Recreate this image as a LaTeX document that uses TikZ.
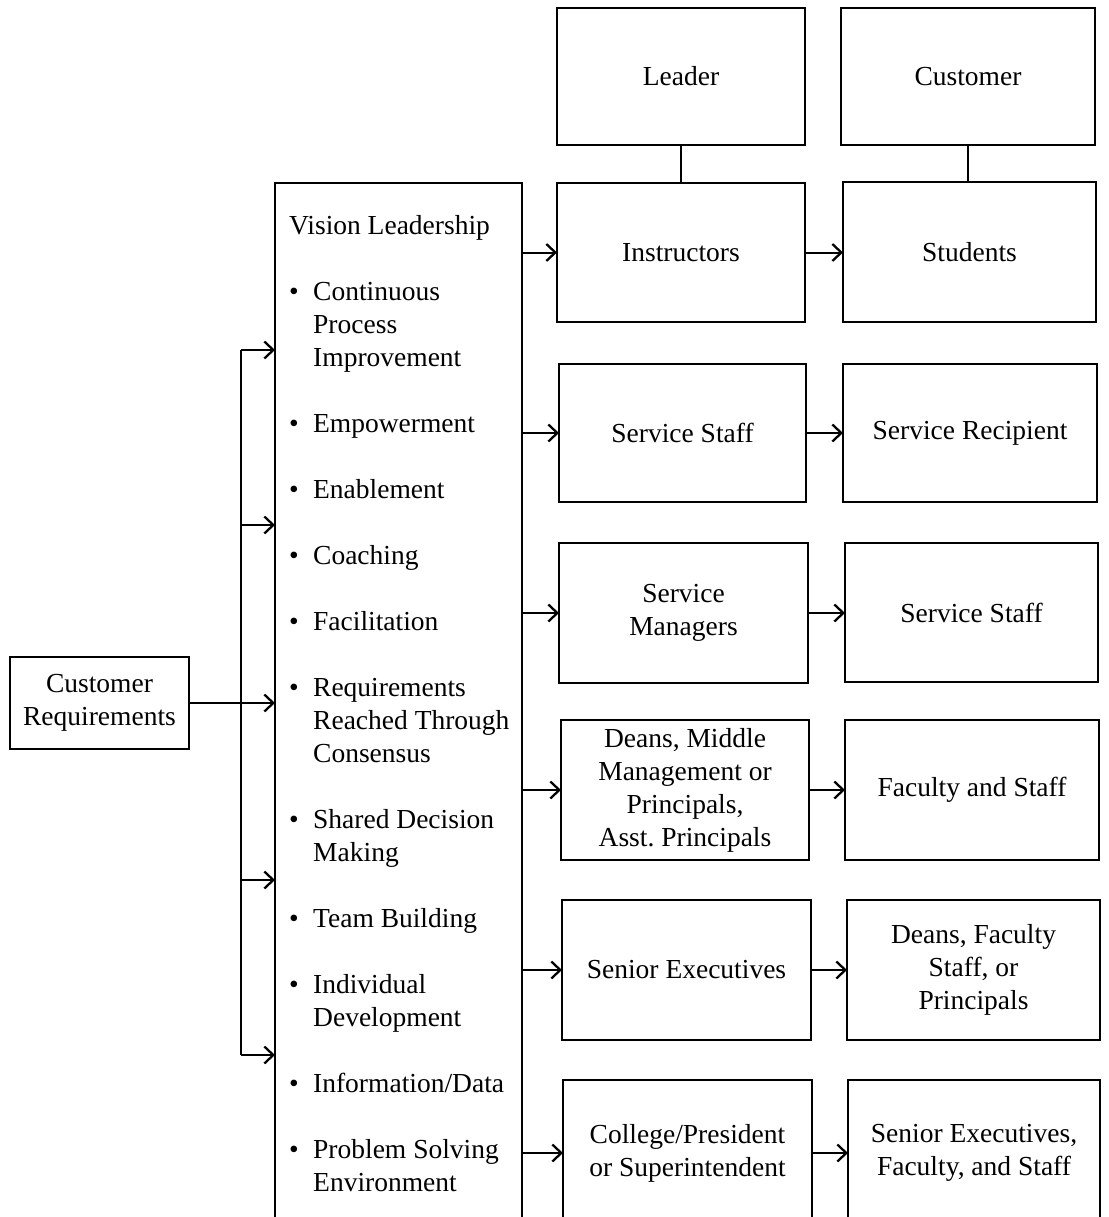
\documentclass[tikz,border=0pt]{standalone}
\usepackage{fontspec}
\setmainfont{Liberation Serif}
\usetikzlibrary{arrows.meta}
\frenchspacing
\begin{document}
\begin{tikzpicture}[x=1pt,y=-1pt,
  every node/.style={font=\fontsize{27.5}{33}\selectfont},
  box/.style={draw,line width=2pt,inner sep=0pt,outer sep=0pt,align=center,anchor=north west},
  conn/.style={line width=2pt},
  arr/.style={line width=2pt,-{Straight Barb[length=9pt,width=17pt,line width=2.3pt]}}
]
\useasboundingbox (0,0) rectangle (1108,1217);
\clip (0,0) rectangle (1108,1217);

% right columns
\node[box,minimum width=248pt,minimum height=137pt] (leader) at (557,8) {Leader};
\node[box,minimum width=254pt,minimum height=137pt] (cust) at (841,8) {Customer};
\node[box,minimum width=248pt,minimum height=139pt] (instr) at (557,183) {Instructors};
\node[box,minimum width=253pt,minimum height=140pt] (stud) at (843,182) {Students};
\node[box,minimum width=247pt,minimum height=138pt] (sstaff) at (559,364) {Service Staff};
\node[box,minimum width=254pt,minimum height=138pt] (srec) at (843,364) {Service Recipient};
\node[box,minimum width=249pt,minimum height=140pt] (smgr) at (559,543) {Service\\Managers};
\node[box,minimum width=253pt,minimum height=139pt] (sstafftwo) at (845,543) {Service Staff};
\node[box,minimum width=248pt,minimum height=140pt] (deans) at (561,720) {Deans, Middle\\Management or\\Principals,\\Asst.\ Principals};
\node[box,minimum width=254pt,minimum height=140pt] (fac) at (845,720) {Faculty and Staff};
\node[box,minimum width=249pt,minimum height=140pt] (senior) at (562,900) {Senior Executives};
\node[box,minimum width=253pt,minimum height=140pt] (deansf) at (847,900) {Deans, Faculty\\Staff, or\\Principals};
\node[box,minimum width=249pt,minimum height=146pt] (college) at (563,1080) {College/President\\or Superintendent};
\node[box,minimum width=252pt,minimum height=146pt] (seniorf) at (848,1080) {Senior Executives,\\Faculty, and Staff};

% left
\node[box,minimum width=179pt,minimum height=92pt] (creq) at (10,657) {Customer\\Requirements};
\node[box,minimum width=247pt,minimum height=1060pt] (vision) at (275,183) {};
\node[anchor=north west,inner sep=0pt] (list) at (289,211) {%
\begin{tabular}{@{}p{24pt}@{}l@{}}
\multicolumn{2}{@{}l@{}}{Vision Leadership}\\
\\
\textbullet & Continuous\\
 & Process\\
 & Improvement\\
\\
\textbullet & Empowerment\\
\\
\textbullet & Enablement\\
\\
\textbullet & Coaching\\
\\
\textbullet & Facilitation\\
\\
\textbullet & Requirements\\
 & Reached Through\\
 & Consensus\\
\\
\textbullet & Shared Decision\\
 & Making\\
\\
\textbullet & Team Building\\
\\
\textbullet & Individual\\
 & Development\\
\\
\textbullet & Information/Data\\
\\
\textbullet & Problem Solving\\
 & Environment
\end{tabular}};

% vertical links
\draw[conn] (leader.south) -- (instr.north);
\draw[conn] (cust.south) -- (cust.south |- stud.north);

% arrows from vision box to left column
\foreach \n in {instr,sstaff,smgr,deans,senior,college}
  \draw[arr] (vision.east |- \n.west) -- (\n.west);
% arrows from left column to right column
\draw[arr] (instr.east) -- (instr.east -| stud.west);
\draw[arr] (sstaff.east) -- (sstaff.east -| srec.west);
\draw[arr] (smgr.east) -- (smgr.east -| sstafftwo.west);
\draw[arr] (deans.east) -- (deans.east -| fac.west);
\draw[arr] (senior.east) -- (senior.east -| deansf.west);
\draw[arr] (college.east) -- (college.east -| seniorf.west);

% bracket
\coordinate (bone) at (241,350);
\coordinate (btwo) at (241,525);
\coordinate (bthree) at (241,880);
\coordinate (bfour) at (241,1055);
\draw[conn] (bone) -- (bfour);
\foreach \c in {bone,btwo,bthree,bfour}
  \draw[arr] (\c) -- (vision.west |- \c);
\draw[arr] (creq.east) -- (vision.west |- creq.east);
\end{tikzpicture}
\end{document}
